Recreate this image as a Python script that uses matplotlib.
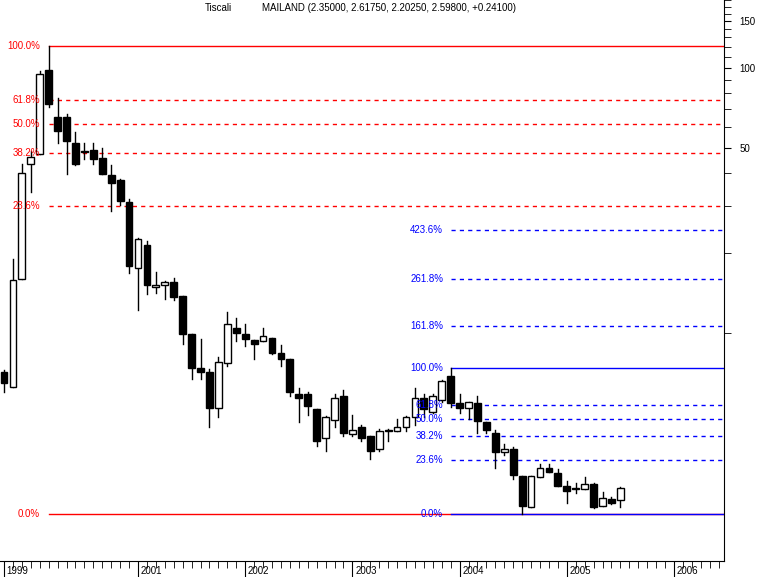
import matplotlib
matplotlib.use("Agg")
import matplotlib.pyplot as plt
import matplotlib.transforms as mtrans
import numpy as np

# monthly candles, Oct 1999 .. Jul 2005 (open, high, low, close)
opens = [7.15, 6.24, 16.0, 43.5, 47.1, 98.3, 65.0, 64.9, 52.2, 48.3,
         49.1, 45.8, 39.3, 37.6, 31.1, 17.6, 21.4, 14.9, 15.2, 15.6,
         13.8, 9.9, 7.4, 7.1, 5.2, 7.7, 10.4, 9.9, 9.4, 9.3,
         9.6, 8.4, 8.0, 5.9, 5.9, 5.15, 4.0, 4.7, 5.8, 4.15,
         4.4, 4.1, 3.65, 4.28, 4.25, 4.4, 4.8, 5.7, 5.05, 5.6,
         6.9, 5.45, 5.2, 5.45, 4.6, 4.2, 3.55, 3.64, 2.88, 2.2,
         2.85, 3.1, 2.95, 2.65, 2.59, 2.58, 2.69, 2.22, 2.36, 2.35]
highs = [7.27, 19.0, 43.5, 48.7, 97.4, 121.0, 77.1, 67.1, 57.4, 52.2,
         52.2, 50.0, 42.8, 37.9, 31.9, 22.8, 22.2, 17.0, 15.7, 16.1,
         13.8, 9.9, 9.5, 7.3, 8.1, 12.0, 11.4, 10.8, 9.4, 10.4,
         9.6, 9.0, 8.0, 6.2, 6.0, 5.15, 4.85, 5.9, 6.1, 4.9,
         4.5, 4.1, 4.35, 4.33, 4.72, 4.85, 6.2, 5.9, 5.9, 6.67,
         7.37, 5.9, 5.5, 5.8, 4.6, 4.3, 3.8, 3.7, 2.88, 2.88,
         3.2, 3.2, 3.06, 2.77, 2.71, 2.86, 2.71, 2.52, 2.4, 2.6175]
lows = [5.99, 6.24, 16.0, 33.9, 47.1, 71.3, 52.2, 39.6, 43.1, 45.1,
        43.5, 39.9, 28.7, 30.3, 16.8, 12.2, 14.0, 14.2, 13.4, 13.3,
        9.1, 6.7, 6.7, 4.4, 4.8, 7.5, 9.3, 8.9, 8.0, 9.3,
        8.3, 7.5, 5.8, 4.6, 4.9, 3.75, 3.6, 4.4, 4.1, 4.1,
        3.9, 3.35, 3.6, 3.9, 4.25, 4.25, 4.5, 4.8, 4.97, 5.5,
        5.25, 4.97, 4.75, 4.2, 4.2, 3.1, 3.45, 2.81, 2.08, 2.2,
        2.85, 3.0, 2.65, 2.29, 2.48, 2.58, 2.19, 2.22, 2.27, 2.2025]
closes = [6.48, 15.8, 40.0, 46.2, 94.9, 73.0, 57.9, 53.1, 43.5, 47.9,
          45.4, 39.9, 36.7, 31.3, 17.8, 22.6, 15.2, 15.2, 15.6, 13.7,
          9.9, 7.4, 7.1, 5.2, 7.8, 10.8, 10.0, 9.5, 9.1, 9.7,
          8.4, 8.0, 6.0, 5.7, 5.3, 3.9, 4.8, 5.7, 4.2, 4.3,
          4.0, 3.6, 4.25, 4.25, 4.4, 4.8, 5.7, 5.15, 5.8, 6.6,
          5.45, 5.2, 5.5, 4.65, 4.3, 3.55, 3.64, 2.9, 2.22, 2.88,
          3.1, 3.0, 2.65, 2.53, 2.58, 2.69, 2.2, 2.38, 2.29, 2.598]

fib_ratios_1 = [0.0, 0.236, 0.382, 0.5, 0.618, 1.0]
fib_ratios_2 = [0.0, 0.236, 0.382, 0.5, 0.618, 1.0, 1.618, 2.618, 4.236]
years = ["1999", "2001", "2002", "2003", "2004", "2005", "2006"]
year_idx = [0, 15, 27, 39, 51, 63, 75]

fig = plt.figure(figsize=(7.65, 5.77), dpi=100)
ax = fig.add_axes([0, 16 / 577, 724 / 765, 561 / 577])
ax.set_yscale("log")
ax.set_ylim(1.38, 178.7)
ax.set_xlim(-0.45, 80.6)

for i, (o, h, l, c) in enumerate(zip(opens, highs, lows, closes)):
    ax.plot([i, i], [l, h], color="black", lw=1, zorder=2)
    lo, hi = min(o, c), max(o, c)
    face = "white" if c > o else "black"
    if hi / lo < 1.01:
        hi = lo * 1.01
    ax.add_patch(plt.Rectangle((i - 0.38, lo), 0.76, hi - lo, facecolor=face,
                               edgecolor="black", lw=1, zorder=3))

blend = mtrans.blended_transform_factory(ax.transAxes, ax.transData)

def draw_fib(start, lo, hi, ratios, color, label_x):
    for r in ratios:
        y = lo + r * (hi - lo)
        ls = "-" if r in (0.0, 1.0) else (0, (3, 3))
        ax.plot([start, 80.6], [y, y], color=color, lw=1, ls=ls, zorder=1)
        ax.text(label_x, y, f"{r * 100:.1f}%", transform=blend, color=color,
                fontsize=7, ha="right", va="center", family="Liberation Sans", zorder=4)

i_hi1 = int(np.argmax(highs))
i_lo = int(np.argmin(lows))
i_hi2 = 50
draw_fib(i_hi1, lows[i_lo], highs[i_hi1], fib_ratios_1, "red", 0.055)
draw_fib(i_hi2, lows[i_lo], highs[i_hi2], fib_ratios_2, "blue", 0.612)

ax.spines["top"].set_visible(False)
ax.spines["left"].set_visible(False)
ax.yaxis.tick_right()
ax.set_yticks([50, 100, 150])
ax.set_yticklabels(["50", "100", "150"], fontsize=7, family="Liberation Sans")
ax.set_yticks([v for v in range(10, 190, 10) if v not in (50, 100, 150)], minor=True)
ax.yaxis.set_minor_formatter(matplotlib.ticker.NullFormatter())
ax.tick_params(axis="y", which="both", direction="out", length=5, pad=6)

ax.set_xticks(np.arange(0, 81), minor=True)
ax.set_xticks(year_idx)
ax.set_xticklabels([])
ax.tick_params(axis="x", which="minor", direction="out", length=5)
ax.tick_params(axis="x", which="major", direction="out", length=16)
for yr, xi in zip(years, year_idx):
    ax.annotate(yr, (xi, 0), xycoords=("data", "axes fraction"), xytext=(2, -7),
                textcoords="offset points", fontsize=7, family="Liberation Sans",
                ha="left", va="center", annotation_clip=False)

fig.text(205 / 765, 1 - 8 / 577, "Tiscali", fontsize=7, family="Liberation Sans", va="center")
fig.text(262 / 765, 1 - 8 / 577, "MAILAND (2.35000, 2.61750, 2.20250, 2.59800, +0.24100)",
         fontsize=7, family="Liberation Sans", va="center")

fig.savefig("out.png", dpi=100)
